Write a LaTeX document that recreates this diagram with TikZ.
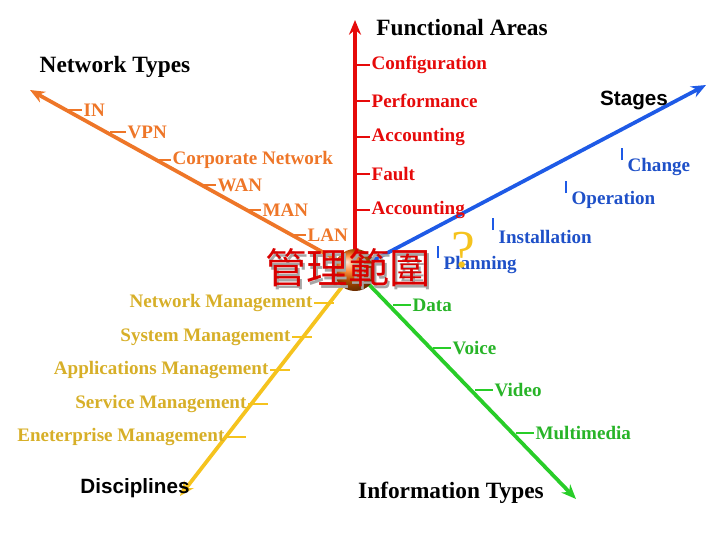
\documentclass[tikz,border=0pt]{standalone}
\usepackage{fontspec}
\setmainfont{Liberation Serif}
\newfontfamily\cjk{Noto Sans CJK TC}
\newfontfamily\arialb{Liberation Sans}
\usetikzlibrary{arrows.meta,shadings}
\definecolor{cred}{RGB}{230,10,10}
\definecolor{corange}{RGB}{238,118,40}
\definecolor{cblue}{RGB}{30,90,230}
\definecolor{cblab}{RGB}{30,80,200}
\definecolor{cgreen}{RGB}{40,205,40}
\definecolor{cglab}{RGB}{40,180,40}
\definecolor{cyellow}{RGB}{245,195,30}
\definecolor{cylab}{RGB}{215,175,40}
\tikzset{
 axis/.style={line width=2.8pt,-{Stealth[length=11pt,width=9pt]}},
 lbl/.style={font=\fontsize{14.3}{16}\selectfont\bfseries,inner sep=1pt},
 ttl/.style={font=\fontsize{17.5}{19}\selectfont\bfseries,text=black},
 tick/.style={line width=1.3pt}
}
\begin{document}
\begin{tikzpicture}[x=0.75pt,y=-0.75pt]
\useasboundingbox (0,0) rectangle (720,540);
\coordinate (c) at (355,270);
\coordinate (ered) at (355,20);
\coordinate (eor) at (30,90);
\coordinate (ebl) at (706,85);
\coordinate (eye) at (180,496);
\coordinate (egr) at (576,499);
\draw[axis,corange] (c) -- (eor);
\draw[axis,cred] (c) -- (ered);
\draw[axis,cblue] (c) -- (ebl);
\draw[axis,cyellow] (c) -- (eye);
\draw[axis,cgreen] (c) -- (egr);
% titles
\node[ttl] (tf) at (462,28) {Functional Areas};
\node[ttl] (tn) at (115,67) {Network Types};
\node[ttl,font=\arialb\fontsize{15.5}{17}\selectfont\bfseries] (ts) at (634,100) {Stages};
\node[ttl,font=\arialb\fontsize{15.5}{17}\selectfont\bfseries] (td) at (135,488) {Disciplines};
\node[ttl] (ti) at (451,493) {Information Types};
% red
\foreach \n/\y/\t in {r1/65/Configuration,r2/101/Performance,r3/137/Accounting,r4/174/Fault,r5/210/Accounting}{
 \coordinate (\n c) at (355,\y);
 \node[lbl,cred,anchor=west] (\n) at (370,\y) {\t};
 \draw[tick,cred] (\n c) -- (\n.west);
}
% orange
\foreach \n/\x/\y/\t in {o1/66/110/IN,o2/110/132/VPN,o3/155/160/Corporate Network,o4/200/185/WAN,o5/245/210/MAN,o6/290/235/LAN}{
 \coordinate (\n c) at (\x,\y);
 \node[lbl,corange,anchor=west] (\n) at (\x+16,\y) {\t};
 \draw[tick,corange] (\n c) -- (\n.west);
}
% blue
\foreach \n/\x/\y/\t in {b1/622/167/Change,b2/566/200/Operation,b3/493/237/Installation,b4/438/265/Planning}{
 \node[lbl,cblab,anchor=west] (\n) at (\x+4,\y) {\t};
 \coordinate (\n c) at (\x,\y-7);
 \coordinate (\n t) at (\x,\y-19);
 \draw[tick,cblue] (\n c) -- (\n t);
}
% green
\foreach \n/\x/\y/\t in {g1/393/305/Data,g2/433/348/Voice,g3/475/390/Video,g4/516/433/Multimedia}{
 \coordinate (\n c) at (\x,\y);
 \node[lbl,cglab,anchor=west] (\n) at (\x+18,\y) {\t};
 \draw[tick,cgreen] (\n c) -- (\n.west);
}
% yellow
\foreach \n/\x/\y/\t in {y1/334/303/Network Management,y2/312/337/System Management,y3/290/370/Applications Management,y4/268/404/Service Management,y5/246/437/Eneterprise Management}{
 \coordinate (\n c) at (\x,\y);
 \node[lbl,cylab,anchor=east] (\n) at (\x-20,\y) {\t};
 \draw[tick,cyellow] (\n.east) -- (\n c);
}
% center
\shade[ball color=orange!85!red] (c) circle[radius=21];
\node[font=\cjk\fontsize{31}{33}\selectfont,text=black!35] (cns) at (350,271) {管理範圍};
\node[font=\cjk\fontsize{31}{33}\selectfont,text=red!85!black] (cn) at (348,268) {管理範圍};
\node[font=\fontsize{40}{42}\selectfont,text=cyellow] (q) at (463,250) {?};
\end{tikzpicture}
\end{document}
